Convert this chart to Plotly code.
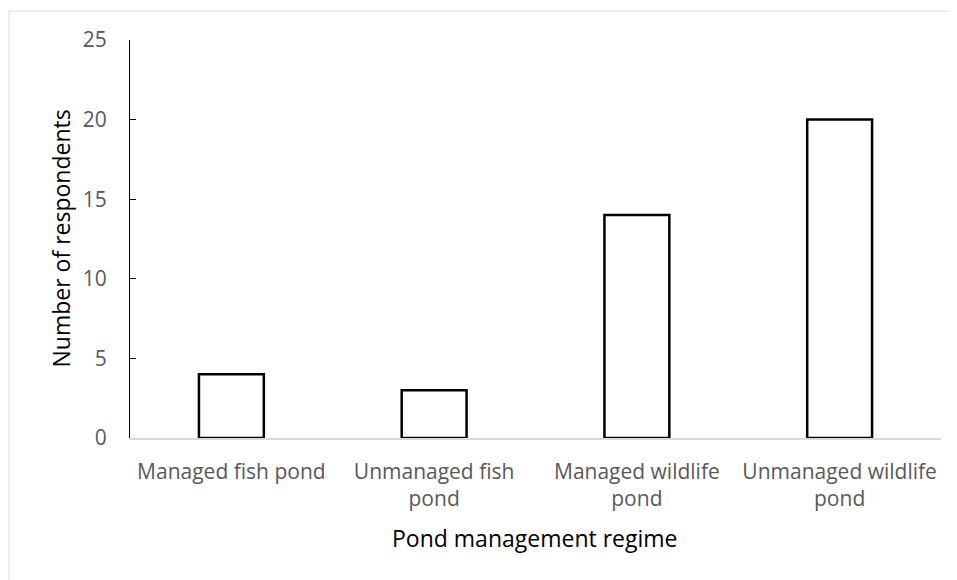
import plotly.graph_objects as go

categories = ["Managed fish pond", "Unmanaged fish pond", "Managed wildlife pond", "Unmanaged wildlife pond"]
tick_labels = ["Managed fish pond", "Unmanaged fish<br>pond", "Managed wildlife<br>pond", "Unmanaged wildlife<br>pond"]
respondents = [4, 3, 14, 20]
y_ticks = [0, 5, 10, 15, 20, 25]

# the page body has an 8px margin; size the figure so the plot lands where the reference has it
OFF = 8
W, H = 957 - OFF, 580 - OFF
L, R, T, B = 122, 16, 32, 142
pw, ph = W - L - R, H - T - B

fig = go.Figure()
fig.add_trace(go.Bar(
    x=list(range(len(categories))), y=respondents, width=0.32,
    marker=dict(color="white", line=dict(color="black", width=2.5)),
    hovertext=categories, showlegend=False,
))

font = "Open Sans, sans-serif"
fig.update_layout(
    width=W, height=H,
    margin=dict(l=L, r=R, t=T, b=B),
    paper_bgcolor="white", plot_bgcolor="white",
    font=dict(family=font),
    xaxis=dict(
        range=[-0.5, 3.5], tickmode="array", tickvals=list(range(len(categories))),
        ticktext=tick_labels, showline=True, linecolor="#d9d9d9", linewidth=1.5,
        ticks="", showgrid=False, zeroline=False,
        tickfont=dict(size=21, color="#595959", family=font),
        ticklabelstandoff=14,
    ),
    yaxis=dict(
        range=[0, 25], tickmode="array", tickvals=y_ticks,
        showline=True, linecolor="black", linewidth=1,
        ticks="inside", ticklen=6, tickcolor="black", tickwidth=1,
        showgrid=False, zeroline=False,
        tickfont=dict(size=21, color="#595959", family=font),
        ticklabelstandoff=18,
    ),
    shapes=[dict(
        type="rect", xref="paper", yref="paper",
        x0=(1 - L) / pw, x1=(W + 10 - L) / pw,
        y0=-(H + 10 - T - ph) / ph, y1=(ph + T - 3) / ph,
        line=dict(color="#d9d9d9", width=1), fillcolor="rgba(0,0,0,0)", layer="below",
    )],
    annotations=[
        dict(text="Number of respondents", xref="paper", yref="paper",
             x=(52 - L) / pw, y=(T + ph - 230.5) / ph, xanchor="center", yanchor="middle",
             textangle=-90, showarrow=False, font=dict(size=23, color="black", family=font)),
        dict(text="Pond management regime", xref="paper", yref="paper",
             x=(527 - L) / pw, y=(T + ph - 530) / ph, xanchor="center", yanchor="middle",
             showarrow=False, font=dict(size=23, color="black", family=font)),
    ],
)

fig.write_html("out.html")
